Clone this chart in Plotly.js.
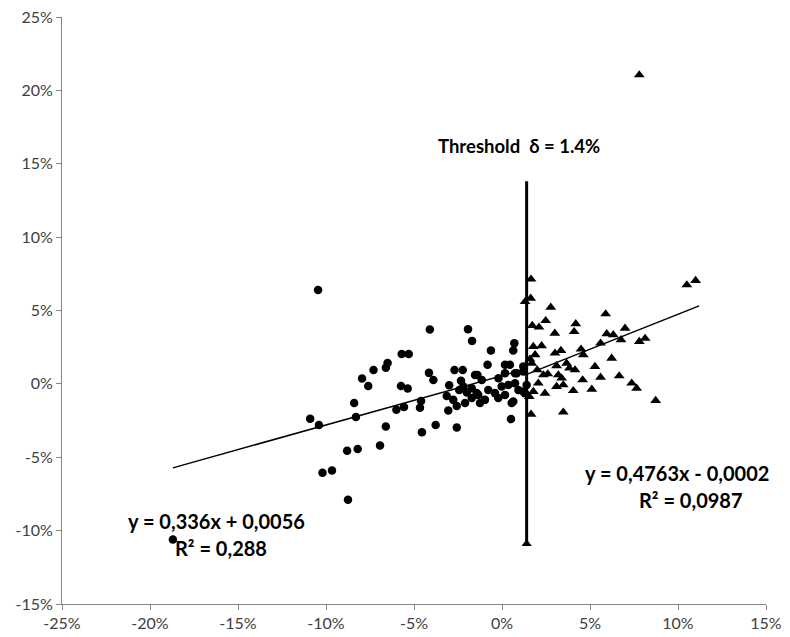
<!DOCTYPE html>
<html>
<head>
<meta charset="utf-8">
<script src="https://cdn.plot.ly/plotly-3.0.1.min.js"></script>
<style>html,body{margin:0;padding:0;background:#fff;}#chart{width:790px;height:637px;}</style>
</head>
<body>
<div id="chart"></div>
<script>
// Below-threshold observations (x %, y %)
const lowX = [-18.7,-10.45,-10.9,-10.4,-10.2,-9.66,-8.75,-8.8,-8.2,-6.93,-6.6,-8.3,-8.4,-7.95,-7.6,-7.3,-6.6,-6.5,-5.7,-5.3,-5.74,-5.36,-6.0,-5.57,-4.6,-4.66,-4.55,-4.15,-4.1,-1.93,-1.7,-3.9,-2.7,-2.23,-1.4,-3.0,-2.33,-2.2,-2.43,-3.14,-2.77,-2.0,-1.72,-1.44,-2.57,-2.1,-3.05,-3.77,-2.57,0.7,0.64,-0.63,-0.82,0.17,0.45,-1.53,-1.15,-0.2,0.17,0.74,1.21,-0.02,0.36,0.74,0.93,-0.4,-0.78,-1.35,-1.72,-0.97,-1.25,-0.21,0.17,0.64,1.3,1.4,0.51,1.21,1.21,0.55,0.83];
const lowY = [-10.6,6.4,-2.38,-2.8,-6.06,-5.9,-7.9,-4.56,-4.43,-4.2,-2.9,-2.25,-1.3,0.36,-0.14,0.95,1.1,1.43,2.04,2.04,-0.14,-0.32,-1.77,-1.57,-1.16,-1.63,-3.3,0.75,3.7,3.72,2.93,0.27,0.95,0.95,0.61,-0.09,0.22,-0.18,-0.41,-0.82,-1.09,-0.59,-0.97,-0.63,-1.5,-1.31,-1.82,-2.8,-2.98,2.77,2.27,2.27,1.3,1.3,1.3,0.61,0.27,0.39,0.73,0.73,1.18,-0.18,-0.07,0.05,-0.41,-0.63,-0.41,-0.75,-0.3,-1.09,-1.31,-0.97,-0.75,-1.2,-0.63,-0.07,-2.4,0.84,-0.52,-1.31,0.73];
// Above-threshold observations (x %, y %)
const highX = [7.8,1.65,1.63,1.31,2.77,2.48,1.72,2.1,4.19,4.1,3.0,5.89,5.95,6.32,6.99,6.76,5.6,7.8,8.13,10.5,11.0,1.78,2.25,1.88,3.01,3.35,4.49,4.62,6.23,1.69,3.1,3.67,3.83,4.15,5.28,2.0,2.35,2.6,3.2,3.39,3.1,3.48,4.58,5.6,6.66,7.37,7.65,8.73,2.06,1.78,2.44,4.05,5.1,1.55,1.65,3.48,1.59];
const highY = [21.05,7.13,5.83,5.6,5.22,4.31,3.97,3.86,4.09,3.56,3.45,4.77,3.41,3.34,3.79,3.0,2.77,2.88,3.1,6.74,7.04,2.54,2.59,1.98,2.09,2.27,2.36,1.98,1.74,1.4,1.23,1.4,1.07,0.95,1.18,0.95,0.61,0.68,0.61,0.39,-0.18,-0.07,0.27,0.45,0.54,0.05,-0.3,-1.14,0.05,-0.52,-0.64,-0.46,-0.37,-0.86,-2.07,-1.93,1.68];
// Threshold and fitted lines
const threshold = 1.4;
const thresholdY = [-11.0, 13.8];
const lowFit = {slope: 0.336, intercept: 0.56, x: [-18.7, 1.3]};
const highFit = {slope: 0.4763, intercept: -0.02, x: [1.4, 11.2]};
const tickVals = [-25,-20,-15,-10,-5,0,5,10,15,20,25];
const tickText = ["-25%","-20%","-15%","-10%","-5%","0%","5%","10%","15%","20%","25%"];

const fitY = f => f.x.map(v => f.slope * v + f.intercept);

const traces = [
  {x: lowFit.x, y: fitY(lowFit), mode: 'lines', line: {color: '#000', width: 1.5}, hoverinfo: 'skip'},
  {x: highFit.x, y: fitY(highFit), mode: 'lines', line: {color: '#000', width: 1.5}, hoverinfo: 'skip'},
  {x: [threshold, threshold], y: thresholdY, mode: 'lines', line: {color: '#000', width: 3}},
  {x: [threshold], y: [thresholdY[0] + 0.1], mode: 'markers', marker: {symbol: 'triangle-up', size: 9, color: '#000'}},
  {x: lowX, y: lowY, mode: 'markers', marker: {symbol: 'circle', size: 8.5, color: '#000'}},
  {x: highX, y: highY, mode: 'markers', marker: {symbol: 'triangle-up', size: 9.5, color: '#000'}}
];

const axisCommon = {
  showgrid: false, zeroline: false, showline: true, linecolor: '#868686', linewidth: 1,
  ticks: 'outside', ticklen: 5, tickcolor: '#868686', tickwidth: 1,
  tickvals: tickVals, ticktext: tickText,
  tickfont: {family: 'Lato, "Liberation Sans", sans-serif', size: 16, color: '#404040'}
};

const annFont = {family: 'Lato, "Liberation Sans", sans-serif', size: 20, color: '#000', weight: 'bold'};
const layout = {
  width: 790, height: 637,
  margin: {l: 62, r: 24, t: 17, b: 33},
  paper_bgcolor: '#fff', plot_bgcolor: '#fff',
  showlegend: false,
  xaxis: Object.assign({}, axisCommon, {range: [-25, 15]}),
  yaxis: Object.assign({}, axisCommon, {range: [-15, 25]}),
  annotations: [
    {x: 0.97, y: 16.2, xref: 'x', yref: 'y', text: '<b>Threshold  δ = 1.4%</b>', showarrow: false, font: Object.assign({}, annFont, {size: 18.5})},
    {x: 9.94, y: -6.06, xref: 'x', yref: 'y', text: '<b>y = 0,4763x - 0,0002</b>', showarrow: false, font: annFont},
    {x: 10.74, y: -7.9, xref: 'x', yref: 'y', text: '<b>R² = 0,0987</b>', showarrow: false, font: annFont},
    {x: -16.2, y: -9.33, xref: 'x', yref: 'y', text: '<b>y = 0,336x + 0,0056</b>', showarrow: false, font: annFont},
    {x: -15.97, y: -11.17, xref: 'x', yref: 'y', text: '<b>R² = 0,288</b>', showarrow: false, font: annFont}
  ]
};

Plotly.newPlot('chart', traces, layout, {displayModeBar: false, staticPlot: true});
</script>
</body>
</html>
